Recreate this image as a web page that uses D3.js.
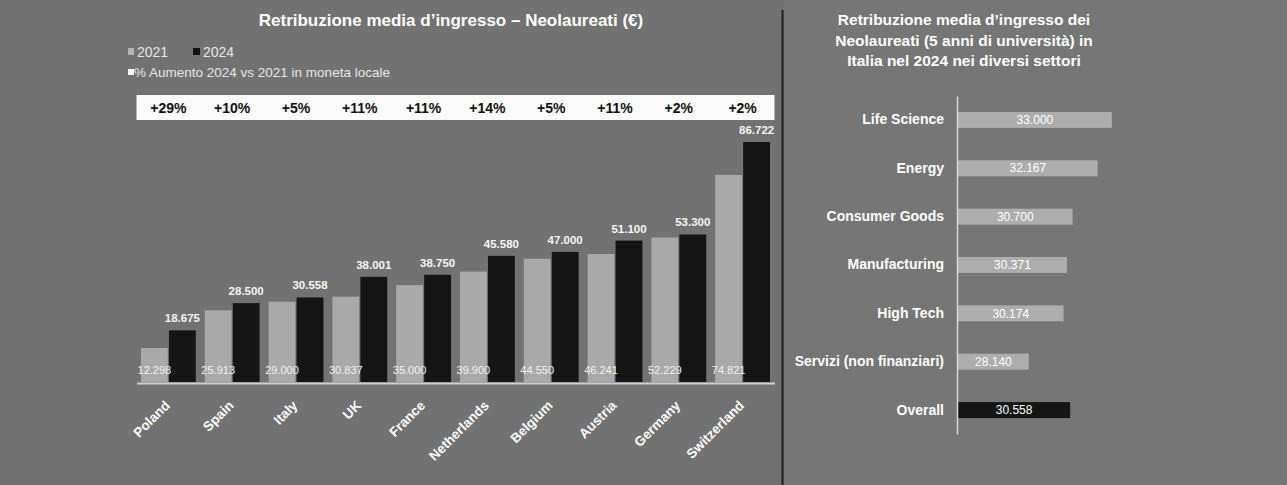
<!DOCTYPE html>
<html><head><meta charset="utf-8">
<script src="https://cdn.jsdelivr.net/npm/d3@7"></script>
<style>
html,body{margin:0;padding:0;background:#737373;}
svg{display:block;font-family:"Liberation Sans",Arial,sans-serif;}
</style></head>
<body><svg id="c" width="1287" height="485"></svg>
<script>
const countries = ["Poland","Spain","Italy","UK","France","Netherlands","Belgium","Austria","Germany","Switzerland"];
const values2021 = [12298,25913,29000,30837,35000,39900,44550,46241,52229,74821];
const values2024 = [18675,28500,30558,38001,38750,45580,47000,51100,53300,86722];
const pctIncrease = ["+29%","+10%","+5%","+11%","+11%","+14%","+5%","+11%","+2%","+2%"];
const sectors = ["Life Science","Energy","Consumer Goods","Manufacturing","High Tech","Servizi (non finanziari)","Overall"];
const sectorValues = [33000,32167,30700,30371,30174,28140,30558];
const legendLabels = ["2021","2024","% Aumento 2024 vs 2021  in moneta locale"];

const it = d3.formatLocale({decimal:",",thousands:".",grouping:[3],currency:["€",""]});
const fmt = it.format(",d");

const svg = d3.select("#c");
const W=1287,H=485;
svg.append("rect").attr("width",W).attr("height",H).attr("fill","#727272");
svg.append("rect").attr("x",784).attr("width",W-784).attr("height",H).attr("fill","#767676");

// divider
svg.append("line").attr("x1",782.5).attr("x2",782.5).attr("y1",10).attr("y2",H).attr("stroke","#1e1e1e").attr("stroke-width",2);

// ---------- Left chart ----------
const x0 = d3.scaleBand().domain(countries).range([136.5,774.5]).paddingInner(0.14).paddingOuter(0.07);
const x1 = d3.scaleBand().domain(["2021","2024"]).range([0,x0.bandwidth()]).paddingInner(0.04);
const y = d3.scaleLinear().domain([0, 86722*(382-132)/(382-142)]).range([382,132]);

svg.append("text").attr("x",451).attr("y",26).attr("text-anchor","middle")
  .attr("fill","#fff").attr("font-weight","bold").attr("font-size",17)
  .text("Retribuzione media d’ingresso – Neolaureati (€)");

// legend
const lg = svg.append("g").attr("font-size",14).attr("fill","#e6e6e6");
lg.append("rect").attr("x",128).attr("y",48).attr("width",6).attr("height",7).attr("fill","#b4b4b4");
lg.append("text").attr("x",137).attr("y",57).text(legendLabels[0]);
lg.append("rect").attr("x",193).attr("y",48).attr("width",7).attr("height",7).attr("fill","#111");
lg.append("text").attr("x",203).attr("y",57).text(legendLabels[1]);
lg.append("rect").attr("x",128).attr("y",69).attr("width",6).attr("height",6).attr("fill","#fff");
lg.append("text").attr("x",134).attr("y",77).attr("font-size",13.5).text(legendLabels[2]);

// percent box
svg.append("rect").attr("x",x0.range()[0]).attr("y",95).attr("width",x0.range()[1]-x0.range()[0]).attr("height",25).attr("fill","#fafafa");
svg.append("g").selectAll("text").data(countries).join("text")
  .attr("x",d=>x0(d)+x0.bandwidth()/2).attr("y",113).attr("text-anchor","middle")
  .attr("font-size",14).attr("font-weight","bold").attr("fill","#111")
  .text((d,i)=>pctIncrease[i]);

// bars
const g = svg.append("g");
g.selectAll("rect.b21").data(countries).join("rect").attr("class","b21")
  .attr("x",d=>x0(d)+x1("2021")).attr("width",x1.bandwidth())
  .attr("y",(d,i)=>y(values2021[i])).attr("height",(d,i)=>y(0)-y(values2021[i]))
  .attr("fill","#a9a9a9");
g.selectAll("rect.b24").data(countries).join("rect").attr("class","b24")
  .attr("x",d=>x0(d)+x1("2024")).attr("width",x1.bandwidth())
  .attr("y",(d,i)=>y(values2024[i])).attr("height",(d,i)=>y(0)-y(values2024[i]))
  .attr("fill","#151515");
g.selectAll("text.l21").data(countries).join("text").attr("class","l21")
  .attr("x",d=>x0(d)+x1("2021")+x1.bandwidth()/2).attr("y",374).attr("text-anchor","middle")
  .attr("font-size",11).attr("fill","#f2f2f2").text((d,i)=>fmt(values2021[i]));
g.selectAll("text.l24").data(countries).join("text").attr("class","l24")
  .attr("x",d=>x0(d)+x1("2024")+x1.bandwidth()/2).attr("y",(d,i)=>y(values2024[i])-8).attr("text-anchor","middle")
  .attr("font-size",11.5).attr("font-weight","bold").attr("fill","#f5f5f5").text((d,i)=>fmt(values2024[i]));

// x axis
const xa = svg.append("g").attr("transform","translate(0,383)").call(d3.axisBottom(x0).tickSize(0).tickSizeOuter(0));
xa.select(".domain").attr("stroke","#d0d0d0").attr("stroke-width",2);
xa.selectAll("text").attr("fill","#fff").attr("font-size",13.5).attr("font-weight","bold")
  .attr("font-family","Liberation Sans, Arial, sans-serif")
  .attr("text-anchor","end").attr("dy","0.35em")
  .attr("transform","translate(-1,20) rotate(-45)").attr("y",0).attr("x",0);

// ---------- Right chart ----------
svg.append("g").selectAll("text").data(["Retribuzione media d’ingresso dei","Neolaureati (5 anni di università) in","Italia nel 2024 nei diversi settori"])
  .join("text").attr("x",964).attr("y",(d,i)=>25+i*20.5).attr("text-anchor","middle")
  .attr("fill","#fff").attr("font-weight","bold").attr("font-size",15.5).text(d=>d);

const ys = d3.scaleBand().domain(sectors).range([96,434]).paddingInner(0.67).paddingOuter(0.33);
const xs = d3.scaleLinear().domain([24000,34000]).range([958,1129]);
const gr = svg.append("g");
gr.selectAll("rect").data(sectors).join("rect")
  .attr("x",xs(24000)).attr("y",d=>ys(d)).attr("height",ys.bandwidth())
  .attr("width",(d,i)=>xs(sectorValues[i])-xs(24000))
  .attr("fill",d=>d==="Overall"?"#151515":"#adadad");
gr.selectAll("text.v").data(sectors).join("text").attr("class","v")
  .attr("x",(d,i)=>(xs(24000)+xs(sectorValues[i]))/2).attr("y",d=>ys(d)+ys.bandwidth()/2).attr("dy","0.35em")
  .attr("text-anchor","middle").attr("font-size",12).attr("fill","#fff").text((d,i)=>fmt(sectorValues[i]));
const ya = svg.append("g").attr("transform","translate(957,0)").call(d3.axisLeft(ys).tickSize(0).tickPadding(13));
ya.select(".domain").attr("stroke","#d8d8d8").attr("stroke-width",1.5);
ya.selectAll("text").attr("fill","#fff").attr("font-size",14).attr("font-weight","bold")
  .attr("font-family","Liberation Sans, Arial, sans-serif");
</script></body></html>
